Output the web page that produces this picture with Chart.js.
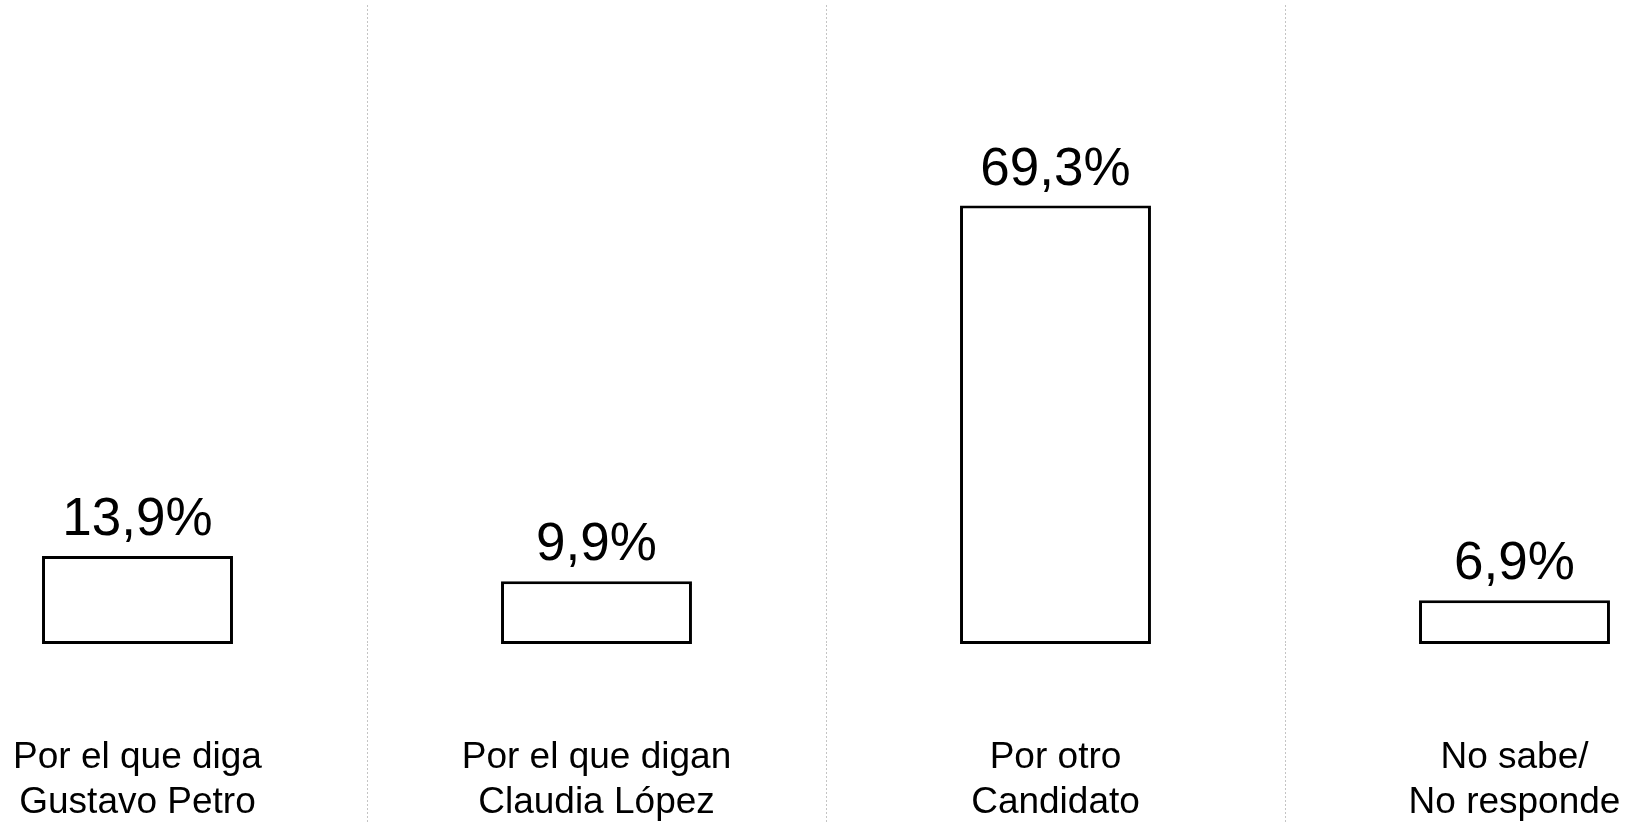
<!DOCTYPE html>
<html>
<head>
<meta charset="utf-8">
<script src="https://cdn.jsdelivr.net/npm/chart.js@4/dist/chart.umd.min.js"></script>
<style>
  html, body { margin: 0; padding: 0; background: #fff; overflow: hidden; }
  #wrap { position: absolute; left: -92px; top: 0; width: 1836px; height: 822px; }
</style>
</head>
<body>
<div id="wrap"><canvas id="grafico"></canvas></div>
<script>
// datos
const categorias = [
    ['Por el que diga', 'Gustavo Petro'],
    ['Por el que digan', 'Claudia López'],
    ['Por otro', 'Candidato'],
    ['No sabe/', 'No responde']
];
const porcentajes = [13.9, 9.9, 69.3, 6.9];

const fuente = '"Liberation Sans", Arial, sans-serif';

// etiquetas de valor encima de cada barra
const etiquetasValor = {
    id: 'etiquetasValor',
    afterDatasetsDraw(chart) {
        const ctx = chart.ctx;
        const meta = chart.getDatasetMeta(0);
        ctx.save();
        ctx.font = '53px ' + fuente;
        ctx.fillStyle = '#000';
        ctx.textAlign = 'center';
        ctx.textBaseline = 'alphabetic';
        meta.data.forEach((bar, i) => {
            const txt = porcentajes[i].toFixed(1).replace('.', ',') + '%';
            ctx.fillText(txt, bar.x, bar.y - 21);
        });
        ctx.restore();
    }
};

new Chart(document.getElementById('grafico'), {
    type: 'bar',
    data: {
        labels: categorias,
        datasets: [{
            data: porcentajes,
            backgroundColor: '#ffffff',
            borderColor: '#000000',
            borderWidth: 3,
            borderSkipped: false,
            categoryPercentage: 1,
            barPercentage: 0.416
        }]
    },
    options: {
        responsive: true,
        maintainAspectRatio: false,
        animation: false,
        layout: { padding: { top: 5, left: 0, right: 0, bottom: 178 } },
        plugins: {
            legend: { display: false },
            tooltip: { enabled: false }
        },
        scales: {
            x: {
                grid: {
                    offset: true,
                    color: '#c4c4c4',
                    lineWidth: 1,
                    tickLength: 178,
                    tickColor: '#c4c4c4',
                    tickBorderDash: [2, 2]
                },
                border: { display: false, dash: [2, 2] },
                ticks: {
                    color: '#000',
                    font: { family: fuente, size: 37, lineHeight: '45px' },
                    mirror: true,
                    padding: -136,
                    maxRotation: 0,
                    autoSkip: false
                }
            },
            y: {
                display: false,
                min: 0,
                max: 101
            }
        }
    },
    plugins: [etiquetasValor]
});
</script>
</body>
</html>
